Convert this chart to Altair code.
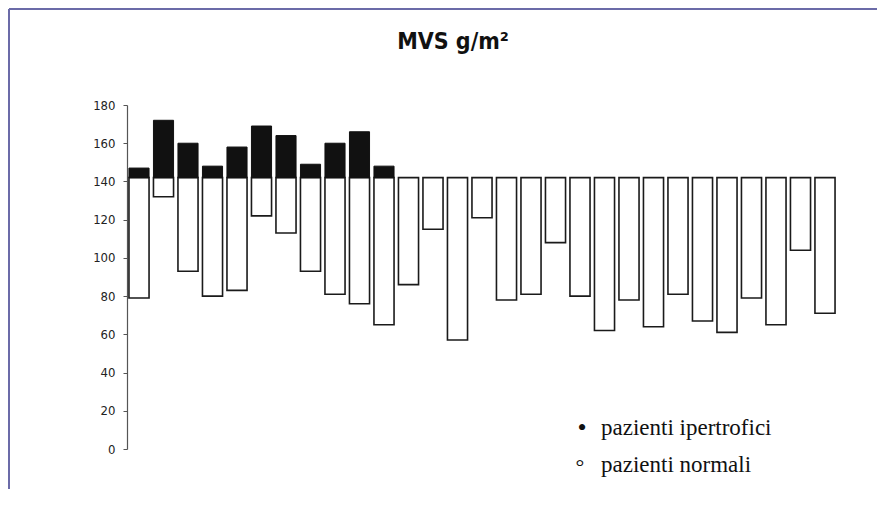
import altair as alt
import pandas as pd

# ---- data ----
patients = list(range(1, 30))
baseline = 142
low_values = [79, 132, 93, 80, 83, 122, 113, 93, 81, 76, 65,
              86, 115, 57, 121, 78, 81, 108, 80, 62, 78, 64, 81, 67, 61, 79, 65, 104, 71]
high_values = [147, 172, 160, 148, 158, 169, 164, 149, 160, 166, 148] + [None] * 18
groups = ["ipertrofico"] * 11 + ["normale"] * 18

y_ticks = [0, 20, 40, 60, 80, 100, 120, 140, 160, 180]
legend_bullets = ["•", "°"]
legend_labels = ["pazienti ipertrofici", "pazienti normali"]
title_text = "MVS g/m²"

df = pd.DataFrame({
    "paziente": patients,
    "low": low_values,
    "high": high_values,
    "base": [baseline] * len(patients),
    "gruppo": groups,
})
hyp = df[df["high"].notna()]

W, H = 710, 344
PAD_L, PAD_T = 119, 97
NARROW = "DejaVu Sans Condensed, Liberation Sans Narrow, Arial Narrow, sans-serif"

x_enc = alt.X("paziente:O", axis=None,
              scale=alt.Scale(paddingInner=0.18, paddingOuter=0.08))
y_scale = alt.Scale(domain=[0, 180], nice=False)
y_axis = alt.Axis(values=y_ticks, grid=False, domainColor="#555", title=None,
                  tickColor="#555", tickSize=4, labelPadding=8,
                  labelFont=NARROW, labelFontSize=13, labelOverlap=False,
                  labelColor="#222", domainWidth=1.2)

white = alt.Chart(df).mark_bar(fill="white", stroke="#1a1a1a", strokeWidth=1.6).encode(
    x=x_enc,
    y=alt.Y("low:Q", scale=y_scale, axis=y_axis),
    y2="base:Q",
)

black = alt.Chart(hyp).mark_bar(fill="#111", stroke="#111", strokeWidth=1).encode(
    x=x_enc,
    y=alt.Y("base:Q", scale=y_scale, axis=y_axis),
    y2="high:Q",
)

def text_layer(txt, x, y, **kw):
    d = pd.DataFrame({"t": [txt]})
    return alt.Chart(d).mark_text(color="#111", **kw).encode(
        text="t:N", x=alt.value(x), y=alt.value(y)
    )

leg1b = text_layer(legend_bullets[0], 455, 323, font="Liberation Serif", fontSize=26,
                   align="center", baseline="middle")
leg1t = text_layer(legend_labels[0], 474, 330, font="Liberation Serif", fontSize=23,
                   align="left", baseline="alphabetic")
leg2b = text_layer(legend_bullets[1], 453, 362, font="Liberation Serif", fontSize=22,
                   align="center", baseline="middle")
leg2t = text_layer(legend_labels[1], 474, 367, font="Liberation Serif", fontSize=23,
                   align="left", baseline="alphabetic")
title = text_layer(title_text, 326, -56, font=NARROW, fontSize=23, fontWeight="bold",
                   align="center", baseline="alphabetic")

one = pd.DataFrame({"a": [0]})
border_top = alt.Chart(one).mark_rule(color="#6b6ba8", strokeWidth=2).encode(
    x=alt.value(-118), x2=alt.value(770), y=alt.value(-96)
)
border_left = alt.Chart(one).mark_rule(color="#6b6ba8", strokeWidth=2).encode(
    x=alt.value(-118), y=alt.value(-96), y2=alt.value(410)
)

chart = alt.layer(white, black, leg1b, leg1t, leg2b, leg2t, title, border_top, border_left).properties(
    width=W, height=H,
    background="white",
    autosize=alt.AutoSizeParams(type="none"),
    padding={"left": PAD_L, "top": PAD_T, "right": 40, "bottom": 40},
).configure_view(strokeWidth=0, stroke="transparent")

chart.save("out.html", embed_options={"renderer": "svg", "actions": False})
